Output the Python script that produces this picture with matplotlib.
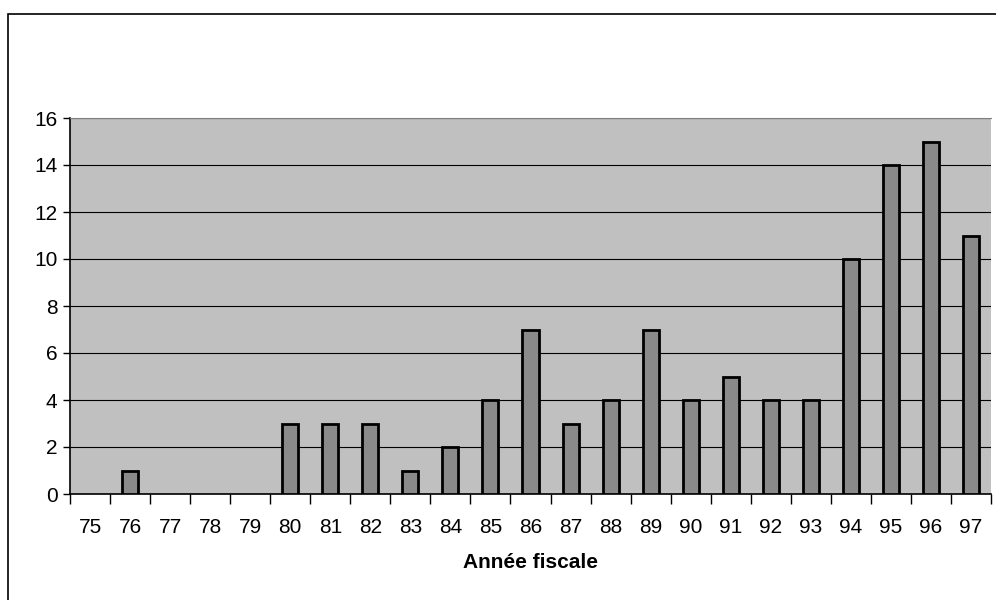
import matplotlib.pyplot as plt
from matplotlib.patches import Rectangle

plt.rcParams['font.family'] = ['Liberation Sans', 'DejaVu Sans']

# Data
years = ['75', '76', '77', '78', '79', '80', '81', '82', '83', '84', '85', '86',
         '87', '88', '89', '90', '91', '92', '93', '94', '95', '96', '97']
counts = [0, 1, 0, 0, 0, 3, 3, 3, 1, 2, 4, 7, 3, 4, 7, 4, 5, 4, 4, 10, 14, 15, 11]
y_ticks = [0, 2, 4, 6, 8, 10, 12, 14, 16]

W, H = 996, 600
fig = plt.figure(figsize=(W / 100, H / 100), dpi=100)

# Outer chart frame (cut by the image border at right and bottom)
fig.patches.append(Rectangle((8 / W, -0.1), 1.2, (H - 14) / H + 0.1,
                             transform=fig.transFigure, fill=False,
                             edgecolor='black', linewidth=1.2))

ax = fig.add_axes([70 / W, (H - 494) / H, (991 - 70) / W, (494 - 118) / H])
ax.set_facecolor('#c0c0c0')

x = list(range(len(years)))
# empty years get no bar outline
shown = [i for i in x if counts[i] > 0]
ax.bar(shown, [counts[i] for i in shown], width=0.4, color='#8a8a8a',
       edgecolor='black', linewidth=2, zorder=3)

ax.set_xlim(-0.5, len(years) - 0.5)
ax.set_ylim(0, 16)
ax.set_yticks(y_ticks)
ax.set_yticklabels([str(v) for v in y_ticks], fontsize=15)
ax.yaxis.grid(True, color='black', linewidth=0.8, zorder=1)
ax.set_axisbelow(True)

# Categories with ticks at the boundaries
ax.set_xticks(x)
ax.set_xticklabels(years, fontsize=15)
ax.tick_params(axis='x', which='major', length=0, pad=17)
ax.set_xticks([i - 0.5 for i in range(len(years) + 1)], minor=True)
ax.tick_params(axis='x', which='minor', length=7, width=1, direction='out')
ax.tick_params(axis='y', length=5, width=1, direction='out', pad=4)

ax.spines['left'].set_linewidth(1.2)
ax.spines['bottom'].set_linewidth(1.2)
ax.spines['top'].set_color('#808080')
ax.spines['right'].set_visible(False)

ax.set_xlabel('Année fiscale', fontsize=15, fontweight='bold', labelpad=12)

fig.savefig('out.png', dpi=100)
